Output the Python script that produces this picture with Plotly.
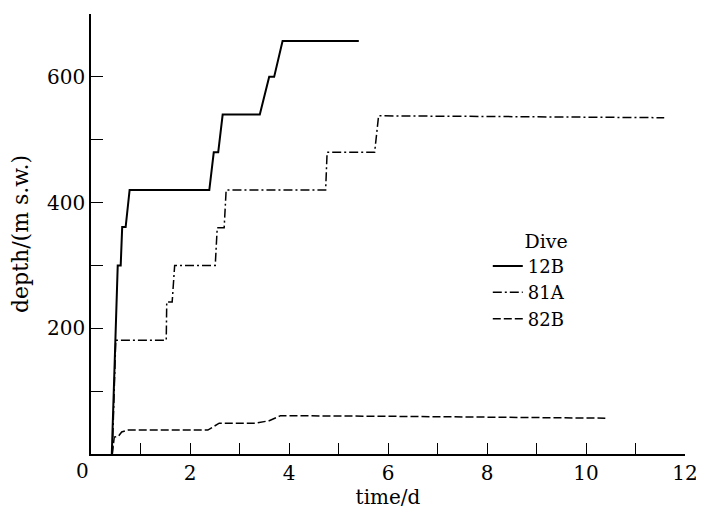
import plotly.graph_objects as go

# Dive 12B (solid)
t_12b = [0.42, 0.54, 0.60, 0.63, 0.70, 0.78, 2.39, 2.48, 2.57, 2.66, 3.41, 3.60, 3.70, 3.87, 5.41]
d_12b = [0, 300, 300, 361, 361, 420, 420, 480, 480, 540, 540, 600, 600, 657, 657]

# Dive 81A (dash-dot)
t_81a = [0.43, 0.50, 1.52, 1.53, 1.64, 1.69, 2.51, 2.55, 2.69, 2.73, 4.74, 4.77, 5.73, 5.81, 8.0, 11.58]
d_81a = [0, 181, 181, 242, 242, 300, 300, 360, 360, 420, 420, 480, 480, 538, 537, 535]

# Dive 82B (dashed)
t_82b = [0.43, 0.47, 0.55, 0.62, 0.75, 2.36, 2.59, 3.33, 3.60, 3.83, 6.0, 8.0, 10.39]
d_82b = [0, 27, 28, 35, 38, 38, 49, 49, 53, 61, 60, 59, 57]

x_ticks = list(range(0, 13))
x_labels = ["", "", "2", "", "4", "", "6", "", "8", "", "10", "", "12"]
y_ticks = [0, 100, 200, 300, 400, 500, 600, 700]
y_labels = ["", "", "200", "", "400", "", "600", ""]

FONT = "DejaVu Serif"

fig = go.Figure()
fig.add_trace(go.Scatter(x=t_12b, y=d_12b, mode="lines", name="12B",
                         line=dict(color="black", width=2, dash="solid")))
fig.add_trace(go.Scatter(x=t_81a, y=d_81a, mode="lines", name="81A",
                         line=dict(color="black", width=1.5, dash="9px,3px,2px,3px")))
fig.add_trace(go.Scatter(x=t_82b, y=d_82b, mode="lines", name="82B",
                         line=dict(color="black", width=1.5, dash="8px,3px")))

fig.update_layout(
    width=696, height=506,
    margin=dict(l=83, r=14, t=6, b=60),
    plot_bgcolor="white", paper_bgcolor="white",
    font=dict(family=FONT, size=20, color="black"),
    showlegend=True,
    legend=dict(
        x=0.668, y=0.525, xanchor="left", yanchor="top",
        bgcolor="rgba(0,0,0,0)", borderwidth=0,
        title=dict(text="Dive", side="top right", font=dict(family=FONT, size=19)),
        font=dict(family=FONT, size=18),
    ),
    xaxis=dict(
        range=[0, 12], tickmode="array", tickvals=x_ticks, ticktext=x_labels,
        ticks="inside", ticklen=11, tickwidth=1.2, tickcolor="black",
        showline=True, linecolor="black", linewidth=1.5,
        showgrid=False, zeroline=False,
        title=dict(text="time/d", standoff=6, font=dict(family=FONT, size=20)),
    ),
    yaxis=dict(
        range=[0, 700], tickmode="array", tickvals=y_ticks, ticktext=y_labels,
        ticks="inside", ticklen=12, tickwidth=1.2, tickcolor="black",
        showline=True, linecolor="black", linewidth=1.5,
        showgrid=False, zeroline=False,
        title=dict(text="depth/(m s.w.)", standoff=12, font=dict(family=FONT, size=22)),
    ),
)

fig.add_annotation(text="0", x=-0.015, y=-0.0386, xref="paper", yref="paper",
                   xanchor="center", yanchor="middle", showarrow=False,
                   font=dict(family=FONT, size=20, color="black"))

fig.write_html("out.html")
